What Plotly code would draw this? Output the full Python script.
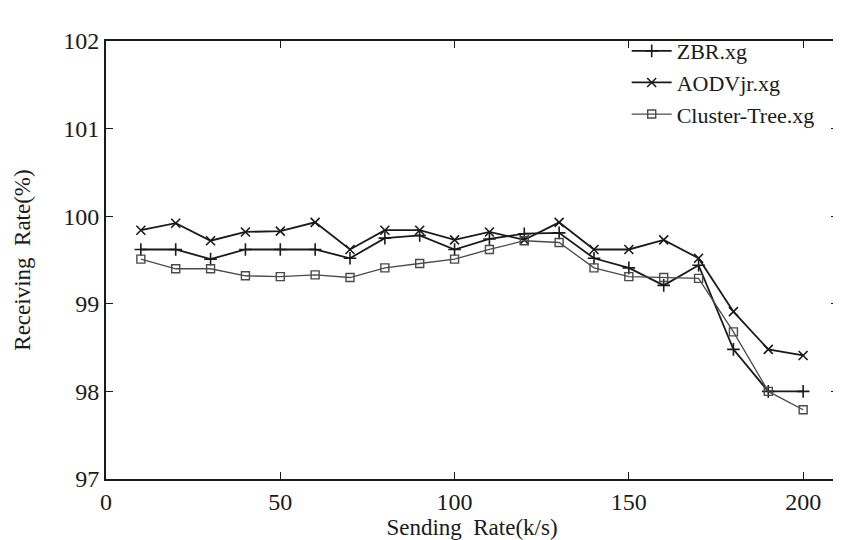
import plotly.graph_objects as go

sending_rate = [10, 20, 30, 40, 50, 60, 70, 80, 90, 100,
                110, 120, 130, 140, 150, 160, 170, 180, 190, 200]

zbr = [99.62, 99.62, 99.51, 99.62, 99.62, 99.62, 99.52, 99.75, 99.78, 99.62,
       99.74, 99.80, 99.81, 99.52, 99.41, 99.21, 99.44, 98.48, 98.00, 98.00]

aodv = [99.84, 99.92, 99.72, 99.82, 99.83, 99.93, 99.62, 99.84, 99.84, 99.73,
        99.82, 99.73, 99.93, 99.62, 99.62, 99.73, 99.52, 98.91, 98.48, 98.41]

cluster = [99.51, 99.40, 99.40, 99.32, 99.31, 99.33, 99.30, 99.41, 99.46, 99.51,
           99.62, 99.72, 99.70, 99.41, 99.31, 99.30, 99.29, 98.68, 98.00, 97.79]

series_names = ["ZBR.xg", "AODVjr.xg", "Cluster-Tree.xg"]
x_ticks = [0, 50, 100, 150, 200]
y_ticks = [97, 98, 99, 100, 101, 102]

FONT = "'Liberation Serif', 'DejaVu Serif', serif"
INK = "#1a1a1a"

fig = go.Figure()
fig.add_trace(go.Scatter(
    x=sending_rate, y=zbr, name=series_names[0], mode="lines+markers",
    line=dict(color=INK, width=1.8),
    marker=dict(symbol="cross-thin-open", size=9, line=dict(color=INK, width=1.6)),
))
fig.add_trace(go.Scatter(
    x=sending_rate, y=aodv, name=series_names[1], mode="lines+markers",
    line=dict(color=INK, width=1.8),
    marker=dict(symbol="x-thin-open", size=9, line=dict(color=INK, width=1.6)),
))
fig.add_trace(go.Scatter(
    x=sending_rate, y=cluster, name=series_names[2], mode="lines+markers",
    line=dict(color="#4a4a4a", width=1.3),
    marker=dict(symbol="square-open", size=8, line=dict(color="#4a4a4a", width=1.4)),
))

axis_common = dict(
    showgrid=False, zeroline=False, showline=True, linecolor=INK, linewidth=2,
    mirror="ticks", ticks="inside", ticklen=7, tickwidth=1.3, tickcolor=INK,
    tickfont=dict(family=FONT, size=24, color=INK),
)

fig.update_layout(
    width=841, height=540,
    margin=dict(l=98, r=9, t=33, b=69),
    paper_bgcolor="white", plot_bgcolor="white",
    font=dict(family=FONT, color=INK),
    xaxis=dict(range=[0, 210], tickvals=x_ticks,
               title=dict(text="Sending  Rate(k/s)", font=dict(family=FONT, size=23, color=INK), standoff=0),
               **axis_common),
    yaxis=dict(range=[97, 102], tickvals=y_ticks,
               title=dict(text="Receiving  Rate(%)", font=dict(family=FONT, size=23, color=INK), standoff=26),
               **axis_common),
    legend=dict(x=0.975, y=1.025, xanchor="right", yanchor="top",
                bgcolor="rgba(0,0,0,0)", font=dict(family=FONT, size=22, color=INK),
                tracegroupgap=0, itemwidth=40),
    showlegend=True,
)

fig.write_html("out.html")
